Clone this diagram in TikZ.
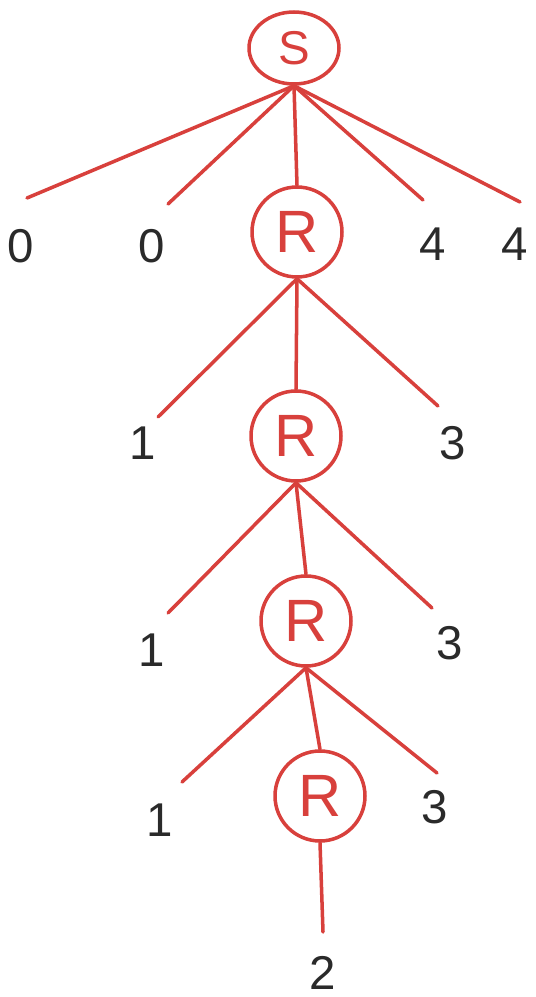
\documentclass[tikz,border=0pt]{standalone}
\usepackage{fontspec}
\setmainfont{Liberation Sans}
\usetikzlibrary{shapes.geometric}
\definecolor{Pen}{HTML}{D8403C}
\definecolor{Ink}{HTML}{2A2A2A}

\begin{document}
\begin{tikzpicture}[x=.02cm,y=-.02cm,
    knot/.style={draw=Pen,line width=2pt,circle,minimum size=1.8cm,inner sep=0pt,text=Pen,font=\fontsize{34}{36}\selectfont},
    leaf/.style={text=Ink,inner sep=0pt,font=\fontsize{27}{29}\selectfont},
    twig/.style={draw=Pen,line width=2pt,line cap=round}]
    \useasboundingbox (0,0) rectangle (535,997);
    \node[knot,ellipse,minimum width=1.8cm,minimum height=1.44cm,font=\fontsize{27}{29}\selectfont] (s) at (294,48) {S};
    \node[knot] (r1) at (297,232) {R};
    \node[knot] (r2) at (296,436) {R};
    \node[knot] (r3) at (306,621) {R};
    \node[knot] (r4) at (320,796) {R};
    \coordinate (sa) at (27,198);
    \coordinate (sb) at (168,204);
    \coordinate (sc) at (423,200);
    \coordinate (sd) at (520,202);
    \coordinate (r1a) at (158,417);
    \coordinate (r1b) at (438,406);
    \coordinate (r2a) at (168,613);
    \coordinate (r2b) at (432,608);
    \coordinate (r3a) at (182,782);
    \coordinate (r3b) at (437,773);
    \coordinate (r4a) at (323,932);
    \node[leaf] (la) at (21,246) {0};
    \node[leaf] (lb) at (152,246) {0};
    \node[leaf] (lc) at (433,244) {4};
    \node[leaf] (ld) at (515,244) {4};
    \node[leaf] (l1a) at (143,443) {1};
    \node[leaf] (l1b) at (453,443) {3};
    \node[leaf] (l2a) at (152,650) {1};
    \node[leaf] (l2b) at (450,643) {3};
    \node[leaf] (l3a) at (160,820) {1};
    \node[leaf] (l3b) at (435,807) {3};
    \node[leaf] (l4a) at (323,973) {2};
    \draw[twig] (s.south) -- (sa);
    \draw[twig] (s.south) -- (sb);
    \draw[twig] (s.south) -- (r1.north);
    \draw[twig] (s.south) -- (sc);
    \draw[twig] (s.south) -- (sd);
    \draw[twig] (r1.south) -- (r1a);
    \draw[twig] (r1.south) -- (r2.north);
    \draw[twig] (r1.south) -- (r1b);
    \draw[twig] (r2.south) -- (r2a);
    \draw[twig] (r2.south) -- (r3.north);
    \draw[twig] (r2.south) -- (r2b);
    \draw[twig] (r3.south) -- (r3a);
    \draw[twig] (r3.south) -- (r4.north);
    \draw[twig] (r3.south) -- (r3b);
    \draw[twig] (r4.south) -- (r4a);
  \end{tikzpicture}
\end{document}
